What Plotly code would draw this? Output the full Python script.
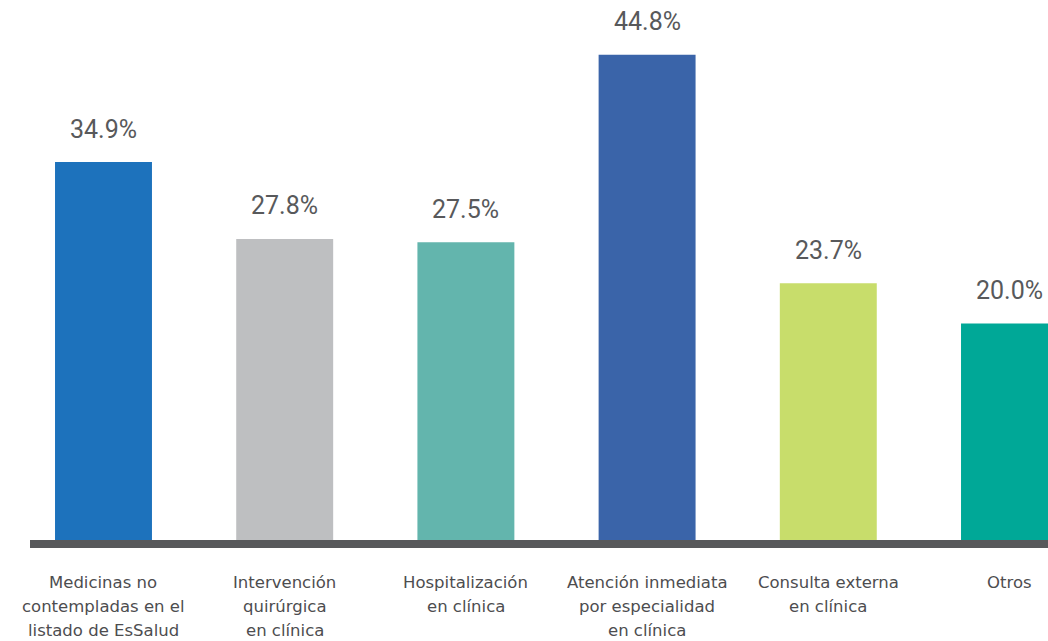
import plotly.graph_objects as go

categories = [
    "Medicinas no\ncontempladas en el\nlistado de EsSalud",
    "Intervención\nquirúrgica\nen clínica",
    "Hospitalización\nen clínica",
    "Atención inmediata\npor especialidad\nen clínica",
    "Consulta externa\nen clínica",
    "Otros",
]
values = [34.9, 27.8, 27.5, 44.8, 23.7, 20.0]
value_labels = ["34.9%", "27.8%", "27.5%", "44.8%", "23.7%", "20.0%"]
bar_colors = ["#1d72bc", "#bebfc1", "#63b5ad", "#3a64a9", "#c8dd6b", "#00a897"]

names = [c.replace("\n", " ") for c in categories]

W, H = 1048, 641
PLOT_TOP, PLOT_BOTTOM = 0, 540
PX_PER_UNIT = 10.83
plot_h = PLOT_BOTTOM - PLOT_TOP

fig = go.Figure(go.Bar(
    x=names, y=values,
    marker=dict(color=bar_colors, line=dict(width=0)),
    width=0.535,
    hoverinfo="skip",
))

annotations = []
for n, v, lab in zip(names, values, value_labels):
    annotations.append(dict(
        x=n, y=v, xref="x", yref="y", text=lab, showarrow=False,
        yanchor="middle", yshift=33,
        font=dict(family="Roboto", size=25, color="#58595b"),
    ))

line_centers = [582, 606.5, 630.5]
for n, c in zip(names, categories):
    for i, line in enumerate(c.split("\n")):
        annotations.append(dict(
            x=n, y=0, xref="x", yref="paper", text=line, showarrow=False,
            yanchor="middle", yshift=-(line_centers[i] - PLOT_BOTTOM),
            borderpad=0,
            font=dict(family="DejaVu Sans", size=16.5, color="#4d4d4f"),
        ))

fig.update_layout(
    width=W, height=H,
    margin=dict(l=30, r=0, t=PLOT_TOP, b=H - PLOT_BOTTOM, pad=0),
    paper_bgcolor="white", plot_bgcolor="white",
    showlegend=False,
    annotations=annotations,
    xaxis=dict(
        range=[-0.4056, 5.2125], showgrid=False, showticklabels=False,
        ticks="", zeroline=False, showline=True, linewidth=8, linecolor="#58595b",
        fixedrange=True,
    ),
    yaxis=dict(
        range=[0, plot_h / PX_PER_UNIT], visible=False, showgrid=False,
        zeroline=False, fixedrange=True,
    ),
)

fig.write_html(
    "out.html",
    config={"displayModeBar": False},
    post_script="document.body.style.margin='0';document.body.style.overflow='hidden';",
)
